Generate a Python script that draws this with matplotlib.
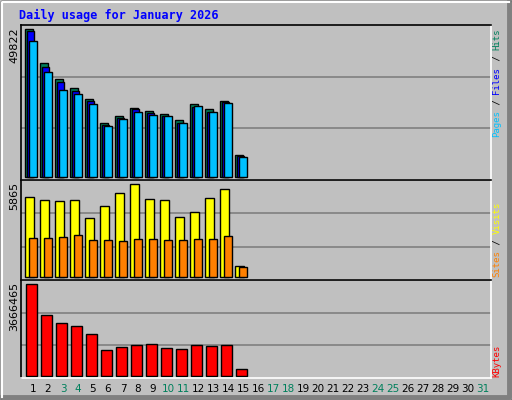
import matplotlib
matplotlib.use("Agg")
import matplotlib.pyplot as plt
from matplotlib.patches import Rectangle

days = list(range(1, 32))
weekend = [3, 4, 10, 11, 17, 18, 24, 25, 31]
hits = [49822, 38330, 32920, 29880, 26160, 18050, 20415, 23120, 22100, 21090, 19060, 24470, 22780, 25490, 7230]
files = [49150, 36980, 31900, 28860, 25480, 17580, 19940, 22780, 21430, 20410, 18050, 23460, 21770, 25250, 7100]
pages = [45770, 35290, 29200, 27850, 24470, 17040, 19400, 21770, 20750, 20410, 18050, 23800, 21770, 24810, 6760]
visits = [5040, 4850, 4785, 4850, 3707, 4470, 5294, 5865, 4913, 4850, 3770, 4088, 4976, 5548, 660]
sites = [2437, 2437, 2500, 2628, 2310, 2310, 2247, 2374, 2374, 2310, 2310, 2374, 2374, 2564, 597]
kbytes = [3666465, 2423000, 2102000, 1982000, 1661000, 1019000, 1139000, 1219000, 1260000, 1099000, 1059000, 1219000, 1179000, 1219000, 257000]

W, H = 512, 400
BG = "#c0c0c0"
fig = plt.figure(figsize=(W/100, H/100), dpi=100, facecolor=BG)

def px_axes(x0, y0, x1, y1):
    return fig.add_axes([x0/W, 1-y1/H, (x1-x0)/W, (y1-y0)/H])

bg = fig.add_axes([0, 0, 1, 1]); bg.set_xlim(0, W); bg.set_ylim(H, 0); bg.axis("off")
bg.add_patch(Rectangle((0.5, 0.5), W-1, H-1, fill=False, ec="black", lw=1))
bg.plot([1.5, W-3, W-3], [H-3, H-3, 1.5], color="#808080", lw=3.5)
bg.plot([1.5, 1.5, W-3], [H-3, 1.5, 1.5], color="white", lw=1.5)
bg.text(19, 15, "Daily usage for January 2026", color="#0000ff", fontsize=8.5,
        fontweight="bold", family="DejaVu Sans Mono", va="center", ha="left")

XL = (0.233, 31.567)

def setup(ax, maxv, base_px, top_px, panel_h):
    scale = maxv / top_px
    ax.set_xlim(*XL)
    ax.set_ylim(-base_px*scale, (panel_h-base_px)*scale)
    ax.set_facecolor(BG)
    lo, hi = ax.get_ylim()
    for f in (1/3, 2/3):
        ax.axhline(lo + f*(hi-lo), color="#808080", lw=1.2, zorder=0)
    ax.set_xticks([]); ax.set_yticks([])
    for s in ax.spines.values():
        s.set_color("black"); s.set_linewidth(1.2)
    ax.spines["bottom"].set_color("white"); ax.spines["right"].set_color("white")

def bars(ax, vals, off0, off1, color):
    xs = [d - 0.5 + off0 for d in days[:len(vals)]]
    ax.bar(xs, vals, width=off1-off0, align="edge", color=color, ec="black", lw=1)

a1 = px_axes(21, 25, 491, 180)
setup(a1, 49822, 3.3, 147.4, 155)
bars(a1, hits, 0.02, 0.53, "#00805c")
bars(a1, files, 0.16, 0.63, "#0000ff")
bars(a1, pages, 0.27, 0.78, "#00c0ff")

a2 = px_axes(21, 180, 491, 280)
setup(a2, 5865, 3.3, 92.4, 100)
bars(a2, visits, 0.02, 0.58, "#ffff00")
bars(a2, sites, 0.29, 0.78, "#ff8000")

a3 = px_axes(21, 280, 491, 378)
setup(a3, 3666465, 2.3, 91.4, 98)
bars(a3, kbytes, 0.09, 0.78, "#ff0000")

for y, t in [(27, "49822"), (182, "5865"), (282, "3666465")]:
    bg.text(14, y, t, rotation=90, fontsize=8, va="top", ha="center", color="black")

FS = 6.5
STEP = 0.602 * FS * 100 / 72
def rlabel(y_bottom, parts):
    y = y_bottom
    for t, c in parts:
        bg.text(497, y, t, rotation=90, fontsize=FS, family="DejaVu Sans Mono",
                color=c, va="bottom", ha="center")
        y -= len(t) * STEP
rlabel(137, [("Pages", "#00c0ff"), (" / ", "black"), ("Files", "#0000ff"), (" / ", "black"), ("Hits", "#00805c")])
rlabel(277, [("Sites", "#ff8000"), (" / ", "black"), ("Visits", "#ffff00")])
rlabel(377, [("KBytes", "#ff0000")])

for d in days:
    x = 25 + 15*(d-1) + 8
    bg.text(x, 389, str(d), fontsize=7.5, ha="center", va="center",
            color="#00805c" if d in weekend else "black")

fig.savefig("out.png", dpi=100, facecolor=BG)
